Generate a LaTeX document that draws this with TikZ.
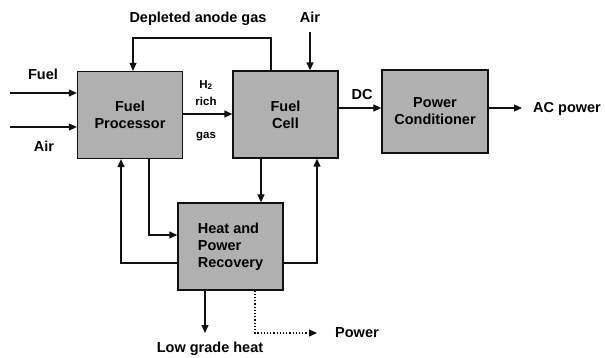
\documentclass[tikz,border=0pt]{standalone}
\usepackage{fontspec}
\setmainfont{Liberation Sans}
\usepackage{tikz}
\usetikzlibrary{arrows.meta,positioning}
\definecolor{Ink}{HTML}{111111}
\definecolor{Box}{HTML}{B0B0B0}

\begin{document}
\begin{tikzpicture}[x=1pt,y=-1pt,
    unit/.style={draw=Ink,line width=1.3pt,fill=Box,minimum width=105pt,
      minimum height=87pt,inner sep=0pt,align=center,
      font=\fontsize{14.5}{17}\selectfont\bfseries},
    lbl/.style={inner sep=0pt,font=\fontsize{14.5}{17}\selectfont\bfseries},
    small/.style={inner sep=0pt,font=\fontsize{11.5}{13}\selectfont\bfseries},
    flow/.style={draw=Ink,line width=1.2pt,-{Triangle[length=8pt,width=7pt]}},
    dotflow/.style={flow,dotted}]
  \useasboundingbox (0,0) rectangle (605,357);
  % blocks
  \node[unit] (proc) at (130,115) {Fuel\\Processor};
  \node[unit] (cell) at (285.5,114.5) {Fuel\\Cell};
  \node[unit,minimum width=106pt,minimum height=83pt] (cond) at (435,111.5) {Power\\Conditioner};
  \node[unit,align=left] (hpr) at (230.5,246.5) {Heat and\\Power\\Recovery};
  % labels
  \node[lbl] (fuel) at (43,74) {Fuel};
  \node[lbl] (air) at (44,146) {Air};
  \node[lbl] (dep) at (198,19) {Depleted anode gas};
  \node[lbl] (airc) at (310,17) {Air};
  \node[small] (h2) at (206,85) {H\textsubscript{2}};
  \node[small] (rich) at (206,101) {rich};
  \node[small] (gas) at (206,137) {gas};
  \node[lbl] (dc) at (362,95) {DC};
  \node[lbl,anchor=west] (ac) at (533,109) {AC power};
  \node[lbl,anchor=west] (pow) at (335,333) {Power};
  \node[lbl] (lgh) at (210,349) {Low grade heat};
  % connector points
  \coordinate (fuelin) at (10,93);
  \coordinate (airin) at (10,127);
  \coordinate (hgas) at (0,114);
  \coordinate (depup) at (271,38);
  \coordinate (depin) at (133,0);
  \coordinate (airtop) at (310,32);
  \coordinate (dcy) at (0,108);
  \coordinate (acend) at (522,108);
  \coordinate (ph) at (149,235);
  \coordinate (hp) at (121,263);
  \coordinate (ch) at (261,0);
  \coordinate (hc) at (317,263);
  \coordinate (heatend) at (205,333);
  \coordinate (pwdown) at (255,333);
  \coordinate (pwend) at (317,333);
  % flows
  \draw[flow] (fuelin) -- (proc.west |- fuelin);
  \draw[flow] (airin) -- (proc.west |- airin);
  \draw[flow] (proc.east |- hgas) -- (cell.west |- hgas);
  \draw[flow] (cell.north -| depup) -- (depup) -| (proc.north -| depin);
  \draw[flow] (airtop) -- (cell.north -| airtop);
  \draw[flow] (cell.east |- dcy) -- (cond.west |- dcy);
  \draw[flow] (cond.east |- acend) -- (acend);
  \draw[flow] (proc.south -| ph) |- (hpr.west |- ph);
  \draw[flow] (hpr.west |- hp) -| (proc.south -| hp);
  \draw[flow] (cell.south -| ch) -- (hpr.north -| ch);
  \draw[flow] (hpr.east |- hc) -| (cell.south -| hc);
  \draw[flow] (hpr.south -| heatend) -- (heatend);
  \draw[dotflow] (hpr.south -| pwdown) |- (pwend);
\end{tikzpicture}
\end{document}
